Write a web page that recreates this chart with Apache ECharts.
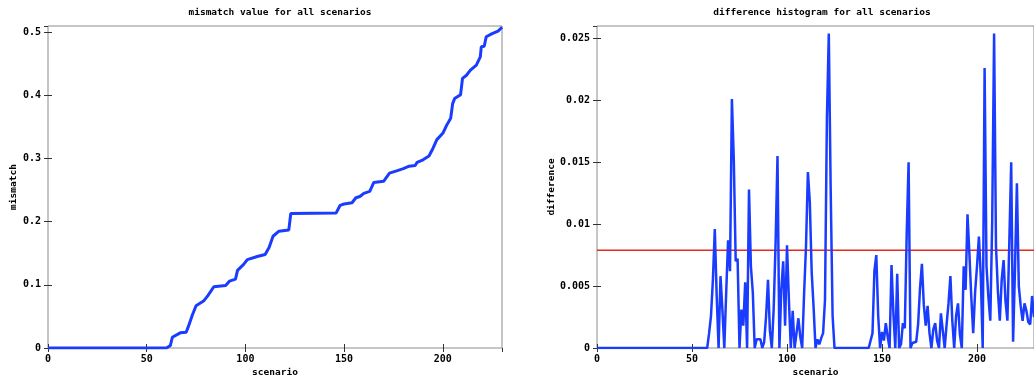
<!DOCTYPE html>
<html>
<head>
<meta charset="utf-8">
<script src="https://cdn.jsdelivr.net/npm/echarts@6/dist/echarts.min.js"></script>
<style>html,body{margin:0;padding:0;background:#fff}#c{width:1034px;height:383px}</style>
</head>
<body>
<div id="c"></div>
<script>
// Left chart: sorted mismatch value per scenario (breakpoints [scenario, mismatch])
const mismatchPoints = [
  [0,0],[60,0],[62,0.004],[63,0.017],[67,0.024],[70,0.025],[71,0.033],[73,0.051],[75,0.067],
  [79,0.075],[81,0.083],[84,0.097],[90,0.099],[92,0.106],[95,0.109],[96,0.123],[99,0.132],
  [101,0.14],[106,0.145],[110,0.148],[112,0.159],[114,0.177],[117,0.185],[122,0.187],[123,0.213],
  [146,0.214],[148,0.226],[150,0.228],[154,0.23],[156,0.238],[158,0.24],[160,0.245],[163,0.248],
  [165,0.262],[170,0.264],[173,0.277],[177,0.281],[180,0.284],[183,0.288],[186,0.289],[187,0.294],
  [190,0.298],[193,0.304],[195,0.316],[197,0.33],[200,0.34],[202,0.353],[204,0.364],[205,0.387],
  [206,0.395],[209,0.401],[210,0.427],[212,0.432],[214,0.44],[217,0.448],[219,0.461],[219.5,0.477],
  [221,0.478],[222,0.493],[225,0.498],[228,0.502],[230,0.508]
];
// Right chart: difference per scenario (index = scenario 0..230)
const differenceValues = [
  0,0,0,0,0,0,0,0,0,0, 0,0,0,0,0,0,0,0,0,0, 0,0,0,0,0,0,0,0,0,0,
  0,0,0,0,0,0,0,0,0,0, 0,0,0,0,0,0,0,0,0,0, 0,0,0,0,0,0,0,0,0,
  0.0012,0.0026,0.0055,0.0096,0.0042,0,0.0058,0.0031,0,0.0045,
  0.0087,0.0062,0.0201,0.0152,0.007,0.0072,0,0.0031,0.0018,0.0053,
  0,0.0128,0.0066,0.0045,0,0.0007,0.0006,0.0007,0,0.0005,
  0.0026,0.0055,0.0014,0,0.0032,0.0085,0.0155,0,0.0047,0.007,
  0.0018,0.0083,0.0039,0,0.003,0,0.0012,0.0024,0.0009,0,
  0.0044,0.0082,0.0142,0.0118,0.0061,0.0033,0,0.0007,0.0003,0.0008,
  0.0012,0.0039,0.0185,0.0254,0.0127,0.0026,
  0,0,0,0,0,0,0,0,0,0, 0,0,0,0,0,0,0,0,0,0,
  0.0012,0.0062,0.0075,0.0026,0,0.0013,0.0006,0.002,0.0009,0,
  0.0067,0.0028,0,0.006,0,0.0003,0.002,0.0016,0.0092,0.015,
  0,0.0004,0.0003,0.0005,0.0019,0.0048,0.0068,0.0035,0.0018,0.0034,
  0.0012,0,0.0015,0.002,0.0006,0,0.0028,0.0014,0,0.0019,
  0.0036,0.0058,0.0022,0,0.0026,0.0036,0.0011,0,0.0066,0.0047,
  0.0108,0.0076,0.0041,0.0012,0.0045,0.0066,0.009,0.0058,0,0.0226,
  0.0066,0.0041,0.0022,0.0102,0.0254,0.0082,0.0046,0.0022,0.0055,0.0071,
  0.0038,0.0022,0.0085,0.015,0.0005,0.0064,0.0133,0.005,0.0034,0.0022,
  0.0036,0.003,0.0021,0.0019,0.0042,0.0025
];
const differenceThreshold = 0.0079;
const titles = ['mismatch value for all scenarios', 'difference histogram for all scenarios'];
const yNames = ['mismatch', 'difference'];
const xName = 'scenario';

const FONT = 'DejaVu Sans Mono';
const lab = {fontFamily: FONT, fontWeight: 'bold', fontSize: 10, color: '#000'};
const nameStyle = {fontFamily: FONT, fontWeight: 'bold', fontSize: 9.5, color: '#000'};
const tick = {show: true, inside: true, length: 4, lineStyle: {color: '#333', width: 1}};
const grids = [
  {left: 48, width: 454, top: 26, bottom: 34},
  {left: 597, width: 444, top: 26, bottom: 34}
];

function xAxes(g) {
  return [
    {type: 'value', gridIndex: g, min: 0, max: 230, interval: 50, position: 'bottom',
     axisLine: {show: false}, axisTick: tick, splitLine: {show: false},
     axisLabel: Object.assign({margin: 6, showMaxLabel: false}, lab),
     name: xName, nameLocation: 'middle', nameGap: 20, nameMoveOverlap: false, nameTextStyle: nameStyle},
    {type: 'value', gridIndex: g, min: 0, max: 230, interval: 50, position: 'top',
     axisLine: {show: false}, axisTick: tick, splitLine: {show: false}, axisLabel: {show: false}}
  ];
}
function yAxes(g, max, interval, gap) {
  return [
    {type: 'value', gridIndex: g, min: 0, max: max, interval: interval, position: 'left',
     axisLine: {show: false}, axisTick: tick, splitLine: {show: false},
     axisLabel: Object.assign({margin: 7, showMaxLabel: false}, lab),
     name: yNames[g], nameLocation: 'middle', nameRotate: 90, nameGap: gap, nameMoveOverlap: false, nameTextStyle: nameStyle},
    {type: 'value', gridIndex: g, min: 0, max: max, interval: interval, position: 'right',
     axisLine: {show: false}, axisTick: tick, splitLine: {show: false}, axisLabel: {show: false}}
  ];
}

const chart = echarts.init(document.getElementById('c'), null, {renderer: 'canvas'});
chart.setOption({
  animation: false,
  backgroundColor: '#fff',
  title: [
    {text: titles[0], left: 275, top: 3, textAlign: 'center', textStyle: nameStyle},
    {text: titles[1], left: 817, top: 3, textAlign: 'center', textStyle: nameStyle}
  ],
  grid: grids.map(g => Object.assign({show: true, borderColor: '#8c8c8c', borderWidth: 1, backgroundColor: 'transparent'}, g)),
  xAxis: xAxes(0).concat(xAxes(1)),
  yAxis: yAxes(0, 0.51, 0.1, 29).concat(yAxes(1, 0.026, 0.005, 40)),
  series: [
    {type: 'line', xAxisIndex: 0, yAxisIndex: 0, data: mismatchPoints, showSymbol: false,
     lineStyle: {color: '#1a3cff', width: 3}, clip: true},
    {type: 'line', xAxisIndex: 2, yAxisIndex: 2, data: [[0, differenceThreshold], [230, differenceThreshold]],
     showSymbol: false, lineStyle: {color: '#e8281c', width: 1.5}, clip: true},
    {type: 'line', xAxisIndex: 2, yAxisIndex: 2, data: differenceValues.map((v, i) => [i, v]), showSymbol: false,
     lineStyle: {color: '#1a3cff', width: 2.5}, clip: true}
  ]
});
</script>
</body>
</html>
